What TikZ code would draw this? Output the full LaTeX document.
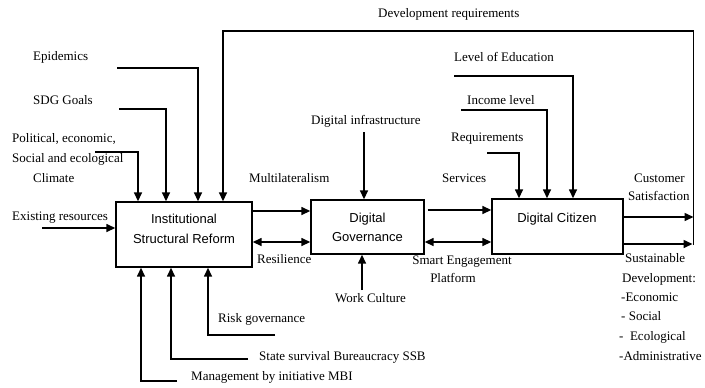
\documentclass[tikz,border=0pt]{standalone}
\usepackage{fontspec}
\setmainfont{Liberation Serif}
\newfontfamily\boxfont{Liberation Sans}
\usetikzlibrary{arrows.meta}
\tikzset{
  lbl/.style={font=\fontsize{13bp}{15bp}\selectfont, inner sep=0pt, anchor=base west},
  btxt/.style={font=\boxfont\fontsize{13bp}{15bp}\selectfont, inner sep=0pt, anchor=base},
  procbox/.style={draw, line width=1.4bp, inner sep=0pt},
  arr/.style={line width=1.5bp, -{Triangle[length=9bp,width=8bp]}},
  darr/.style={line width=1.5bp, {Triangle[length=9bp,width=8bp]}-{Triangle[length=9bp,width=8bp]}},
  ln/.style={line width=1.5bp}
}
\begin{document}
\begin{tikzpicture}[x=1bp,y=-1bp]
\useasboundingbox (0,0) rectangle (705,387);

% boxes
\node[procbox, minimum width=136bp, minimum height=65bp] (isr) at (184,234.5) {};
\node[procbox, minimum width=113bp, minimum height=54bp] (dg) at (367.5,227) {};
\node[procbox, minimum width=131bp, minimum height=55bp] (dc) at (557.5,226.5) {};

\node[btxt] (isrt1) at (184,223) {Institutional};
\node[btxt] (isrt2) at (184,243) {Structural Reform};
\node[btxt] (dgt1) at (367.5,222) {Digital};
\node[btxt] (dgt2) at (367.5,241) {Governance};
\node[btxt] (dct) at (557,222) {Digital Citizen};

% labels
\node[lbl] (ldev) at (378,17) {Development requirements};
\node[lbl] (lepi) at (33,60) {Epidemics};
\node[lbl] (lsdg) at (33,104) {SDG Goals};
\node[lbl] (lpol1) at (12,142) {Political, economic,};
\node[lbl] (lpol2) at (12,162) {Social and ecological};
\node[lbl] (lpol3) at (33,182) {Climate};
\node[lbl] (lexist) at (12,220) {Existing resources};
\node[lbl] (lmulti) at (249,182) {Multilateralism};
\node[lbl] (lres) at (257,263) {Resilience};
\node[lbl] (linfra) at (311,124) {Digital infrastructure};
\node[lbl] (lwork) at (335,302) {Work Culture};
\node[lbl] (lserv) at (442,182) {Services};
\node[lbl, anchor=base] (lsmart1) at (462,264) {Smart Engagement};
\node[lbl, anchor=base] (lsmart2) at (453,282) {Platform};
\node[lbl] (ledu) at (454,61) {Level of Education};
\node[lbl] (linc) at (467,104) {Income level};
\node[lbl] (lreq) at (451,141) {Requirements};
\node[lbl] (lcust1) at (634,182) {Customer};
\node[lbl] (lcust2) at (628,200) {Satisfaction};
\node[lbl] (lsus1) at (625,262) {Sustainable};
\node[lbl] (lsus2) at (622,282) {Development:};
\node[lbl] (lsus3) at (621,301) {-Economic};
\node[lbl] (lsus4) at (621,320) {- Social};
\node[lbl] (lsus5) at (619,340) {-\ \ Ecological};
\node[lbl] (lsus6) at (619,360) {-Administrative};
\node[lbl] (lrisk) at (218,322) {Risk governance};
\node[lbl] (lssb) at (259,360) {State survival Bureaucracy SSB};
\node[lbl] (lmbi) at (191,380) {Management by initiative MBI};

% connector start points
\coordinate (cepi) at (117,68);
\coordinate (csdg) at (119,109);
\coordinate (cclim) at (95,152);
\coordinate (cexist) at (42,228);
\coordinate (crisk) at (275,335);
\coordinate (cssb) at (248,359);
\coordinate (cmbi) at (177,381);
\coordinate (cinfra) at (364,132);
\coordinate (cwork) at (362,290);
\coordinate (cedu) at (454,76);
\coordinate (cinc) at (461,110);
\coordinate (creq) at (487,153);
\coordinate (cloop) at (693.5,245);
\coordinate (ctop) at (223,31);

% connectors into ISR
\draw[arr] (cepi) -| (isr.north -| 198,0);
\draw[arr] (csdg) -| (isr.north -| 166,0);
\draw[arr] (cclim) -| (isr.north -| 138,0);
\draw[arr] (cexist) -- (isr.west |- cexist);
\draw[arr] (crisk) -| (isr.south -| 208,0);
\draw[arr] (cssb) -| (isr.south -| 171,0);
\draw[arr] (cmbi) -| (isr.south -| 141,0);

% feedback loop
\draw[arr] (cloop) |- (ctop) -- (isr.north -| ctop);

% ISR <-> DG
\draw[arr] (isr.east |- 0,211) -- (dg.west |- 0,211);
\draw[darr] (isr.east |- 0,242) -- (dg.west |- 0,242);

% DG
\draw[arr] (cinfra) -- (dg.north -| cinfra);
\draw[arr] (cwork) -- (dg.south -| cwork);

% DG <-> DC
\draw[arr] (dg.east |- 0,210) ++(3,0) -- (dc.west |- 0,210);
\draw[darr] (dg.east |- 0,242) -- (dc.west |- 0,242);

% into DC
\draw[arr] (cedu) -| (dc.north -| 573,0);
\draw[arr] (cinc) -| (dc.north -| 547,0);
\draw[arr] (creq) -| (dc.north -| 519,0);

% out of DC
\draw[arr] (dc.east |- 0,217) -- (cloop |- 0,217);
\draw[arr] (dc.east |- 0,244) -- ([xshift=-1bp]cloop |- 0,244);
\end{tikzpicture}
\end{document}
